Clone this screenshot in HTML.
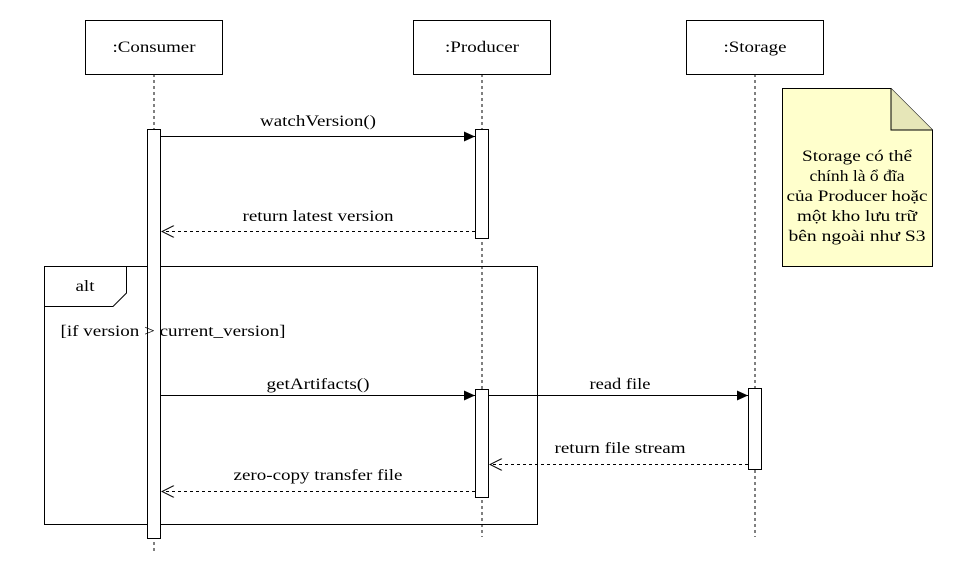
<!DOCTYPE html>
<html><head><meta charset="utf-8"><style>
html,body{margin:0;padding:0;background:#fff;}
svg{display:block;}
text{font-family:"Liberation Serif","Times New Roman","DejaVu Serif",serif;}
</style></head><body>
<svg width="969" height="563" viewBox="0 0 969 563" xmlns="http://www.w3.org/2000/svg">
<defs>
<marker id="fa" markerWidth="12" markerHeight="10" refX="11" refY="5" orient="auto" markerUnits="userSpaceOnUse"><path d="M0,0 L11,5 L0,10 Z" fill="#000"/></marker>
<marker id="oa" markerWidth="14" markerHeight="12" refX="13" refY="6" orient="auto" markerUnits="userSpaceOnUse"><path d="M1,0 L13,6 L1,12" fill="none" stroke="#000" stroke-width="1"/></marker>
</defs>
<g stroke="#000" fill="none" stroke-width="1">
<line x1="154" y1="74" x2="154" y2="553" stroke-dasharray="3,3"/>
<line x1="482" y1="74" x2="482" y2="537" stroke-dasharray="3,3"/>
<line x1="755" y1="74" x2="755" y2="537" stroke-dasharray="3,3"/>
<rect x="85.5" y="20.5" width="137" height="54" fill="#fff"/>
<rect x="413.5" y="20.5" width="137" height="54" fill="#fff"/>
<rect x="686.5" y="20.5" width="137" height="54" fill="#fff"/>
<rect x="44.5" y="266.5" width="493" height="258"/>
<path d="M44.5,306.5 H113 L126.5,293 V266.5"/>
<rect x="147.5" y="129.5" width="13" height="409" fill="#fff"/>
<rect x="475.5" y="129.5" width="13" height="109" fill="#fff"/>
<rect x="475.5" y="389.5" width="13" height="108" fill="#fff"/>
<rect x="748.5" y="388.5" width="13" height="81" fill="#fff"/>
<line x1="161" y1="136.5" x2="475" y2="136.5" marker-end="url(#fa)"/>
<line x1="475" y1="231.5" x2="162" y2="231.5" stroke-dasharray="3,3" marker-end="url(#oa)"/>
<line x1="161" y1="395.5" x2="475" y2="395.5" marker-end="url(#fa)"/>
<line x1="489" y1="395.5" x2="748" y2="395.5" marker-end="url(#fa)"/>
<line x1="748" y1="464.5" x2="490" y2="464.5" stroke-dasharray="3,3" marker-end="url(#oa)"/>
<line x1="475" y1="491.5" x2="162" y2="491.5" stroke-dasharray="3,3" marker-end="url(#oa)"/>
<path d="M782.5,88.5 H891 L932.5,130 V266.5 H782.5 Z" fill="#ffffcc" stroke="#000"/>
<path d="M891,88.5 V130 H932.5" fill="#e6e6b8" stroke="#000"/>
</g>
<g font-size="16" fill="#000" text-anchor="middle">
<text x="154" y="52" textLength="83" lengthAdjust="spacingAndGlyphs">:Consumer</text>
<text x="482" y="52" textLength="74" lengthAdjust="spacingAndGlyphs">:Producer</text>
<text x="755" y="52" textLength="63" lengthAdjust="spacingAndGlyphs">:Storage</text>
<text x="318" y="126" textLength="116" lengthAdjust="spacingAndGlyphs">watchVersion()</text>
<text x="318" y="221" textLength="151" lengthAdjust="spacingAndGlyphs">return latest version</text>
<text x="85" y="291" textLength="19" lengthAdjust="spacingAndGlyphs">alt</text>
<text x="173" y="336" textLength="225" lengthAdjust="spacingAndGlyphs">[if version &gt; current_version]</text>
<text x="318" y="389" textLength="103" lengthAdjust="spacingAndGlyphs">getArtifacts()</text>
<text x="620" y="389" textLength="61" lengthAdjust="spacingAndGlyphs">read file</text>
<text x="620" y="453" textLength="131" lengthAdjust="spacingAndGlyphs">return file stream</text>
<text x="318" y="480" textLength="169" lengthAdjust="spacingAndGlyphs">zero-copy transfer file</text>
<text x="857" y="161" textLength="110" lengthAdjust="spacingAndGlyphs">Storage có thể</text>
<text x="857" y="181" textLength="95" lengthAdjust="spacingAndGlyphs">chính là ổ đĩa</text>
<text x="857" y="201" textLength="141" lengthAdjust="spacingAndGlyphs">của Producer hoặc</text>
<text x="857" y="221" textLength="120" lengthAdjust="spacingAndGlyphs">một kho lưu trữ</text>
<text x="857" y="241" textLength="137" lengthAdjust="spacingAndGlyphs">bên ngoài như S3</text>
</g>
</svg>
</body></html>
